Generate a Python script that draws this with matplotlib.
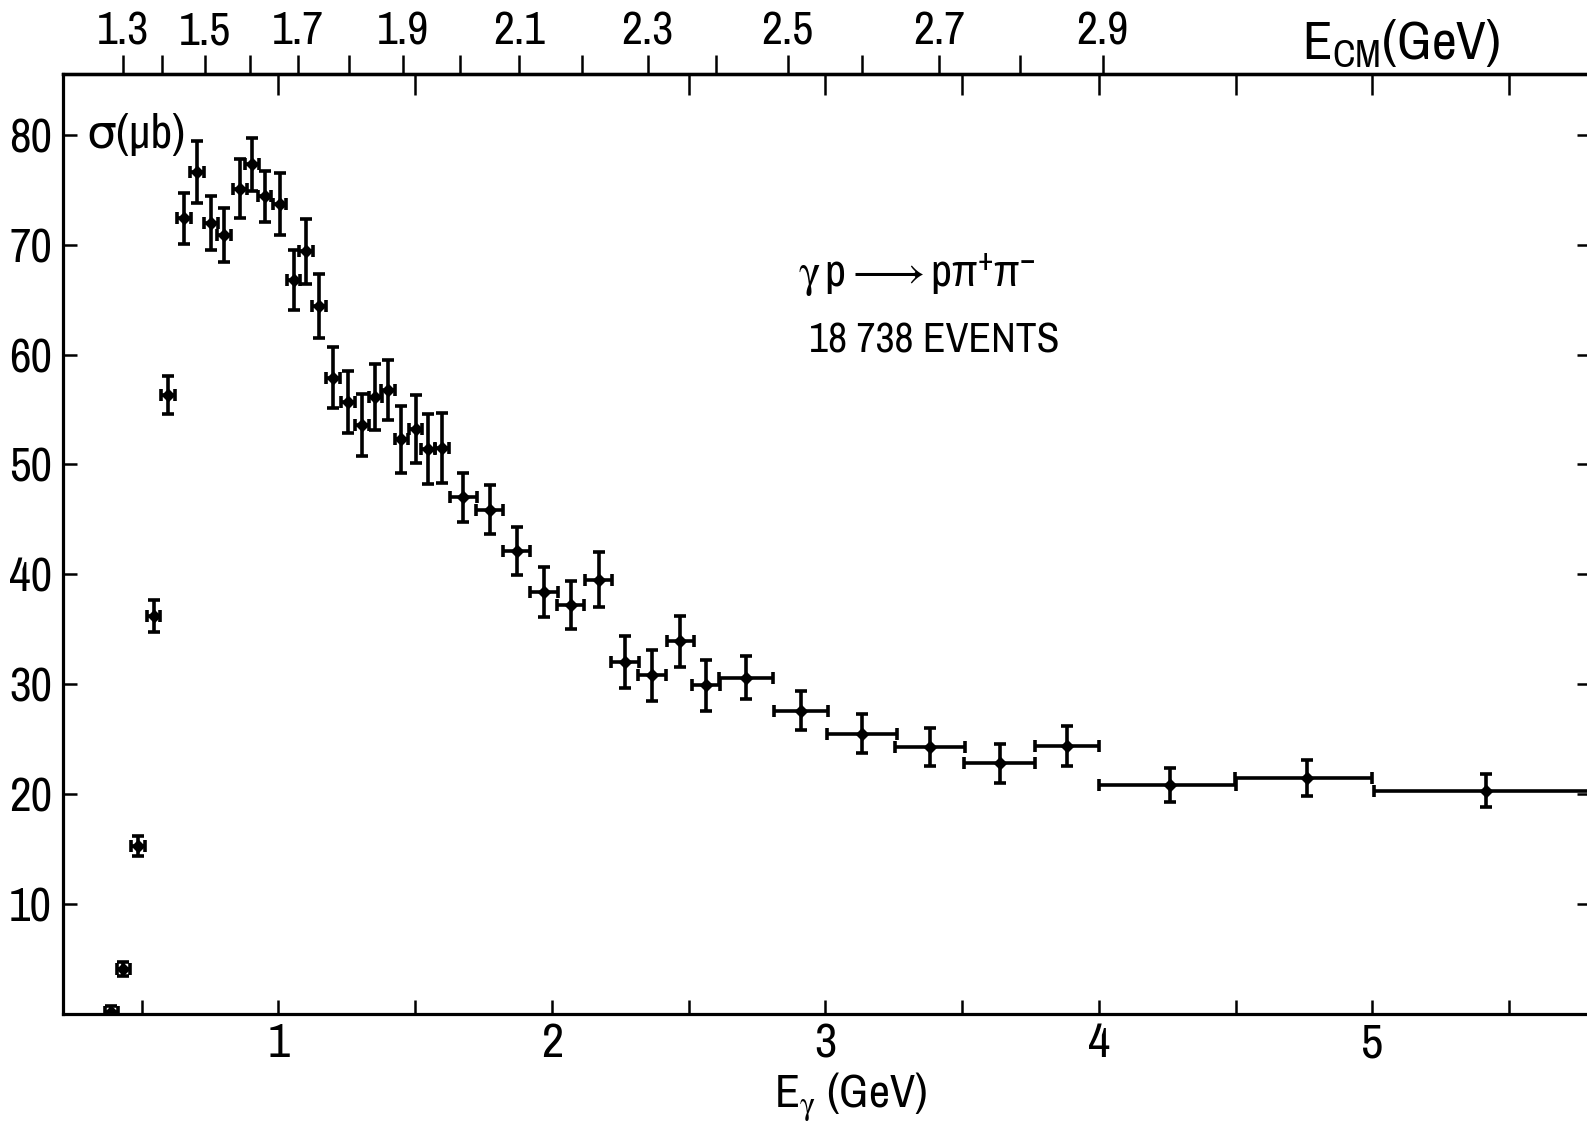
import numpy as np
import matplotlib
matplotlib.use('Agg')
import matplotlib.pyplot as plt
from matplotlib import font_manager

# Datos: seccion eficaz gamma p -> p pi+ pi-
e_gamma = [0.39, 0.434, 0.486, 0.544, 0.596, 0.655, 0.702, 0.753, 0.802, 0.861,
           0.903, 0.950, 1.005, 1.056, 1.102, 1.148, 1.200, 1.254, 1.305, 1.355,
           1.401, 1.450, 1.502, 1.548, 1.599, 1.676, 1.773, 1.871, 1.972, 2.069,
           2.171, 2.267, 2.366, 2.470, 2.564, 2.710, 2.911, 3.135, 3.382, 3.638,
           3.882, 4.260, 4.759, 5.414]
sigma = [0.2, 4.1, 15.3, 36.2, 56.3, 72.4, 76.6, 72.0, 70.9, 75.1,
         77.3, 74.4, 73.7, 66.8, 69.4, 64.4, 57.9, 55.7, 53.6, 56.1,
         56.8, 52.3, 53.2, 51.4, 51.5, 47.0, 45.9, 42.1, 38.4, 37.2,
         39.5, 32.0, 30.8, 33.9, 29.9, 30.6, 27.6, 25.5, 24.3, 22.8,
         24.4, 20.8, 21.5, 20.3]
d_sigma = [0.5, 0.65, 0.9, 1.45, 1.75, 2.3, 2.8, 2.45, 2.45, 2.65,
           2.45, 2.3, 2.8, 2.75, 2.95, 2.9, 2.8, 2.8, 2.8, 3.0,
           2.75, 3.05, 3.1, 3.2, 3.2, 2.2, 2.2, 2.2, 2.3, 2.2,
           2.5, 2.35, 2.35, 2.35, 2.35, 1.95, 1.75, 1.75, 1.7, 1.8,
           1.8, 1.55, 1.65, 1.5]
# Anchura de los bins (izquierda / derecha)
ex_lo = [0.025, 0.025, 0.025, 0.025, 0.025, 0.025, 0.025, 0.025, 0.025, 0.025,
         0.025, 0.025, 0.025, 0.025, 0.025, 0.025, 0.025, 0.025, 0.025, 0.025,
         0.025, 0.025, 0.025, 0.025, 0.025, 0.05, 0.05, 0.05, 0.05, 0.05,
         0.05, 0.05, 0.05, 0.05, 0.05, 0.10, 0.10, 0.13, 0.126, 0.13,
         0.116, 0.26, 0.26, 0.41]
ex_hi = [0.025, 0.025, 0.025, 0.025, 0.025, 0.025, 0.025, 0.025, 0.025, 0.025,
         0.025, 0.025, 0.025, 0.025, 0.025, 0.025, 0.025, 0.025, 0.025, 0.025,
         0.025, 0.025, 0.025, 0.025, 0.025, 0.05, 0.05, 0.05, 0.05, 0.05,
         0.05, 0.05, 0.05, 0.05, 0.05, 0.10, 0.10, 0.127, 0.128, 0.13,
         0.118, 0.24, 0.24, 0.59]

# Ejes
e_ticks = [0.5, 1.0, 1.5, 2.0, 2.5, 3.0, 3.5, 4.0, 4.5, 5.0, 5.5]
e_ticklabels = ['', '1', '', '2', '', '3', '', '4', '', '5', '']
e_top_ticks = [1.0, 1.5, 2.5, 3.0, 3.5, 4.0, 4.5, 5.0, 5.5]
w_ticks = [1.3, 1.4, 1.5, 1.6, 1.7, 1.8, 1.9, 2.0, 2.1, 2.2, 2.3, 2.4, 2.5, 2.6, 2.7, 2.8, 2.9]
w_ticklabels = ['1.3', '', '1.5', '', '1.7', '', '1.9', '', '2.1', '', '2.3', '', '2.5', '', '2.7', '', '2.9']
y_ticks = [10, 20, 30, 40, 50, 60, 70, 80]

M_P = 0.938  # masa del proton (GeV)


def e_to_w(e):
    e = np.asarray(e, dtype=float)
    return np.sqrt(np.clip(M_P**2 + 2 * M_P * e, 1e-6, None))


def w_to_e(w):
    w = np.asarray(w, dtype=float)
    return (w**2 - M_P**2) / (2 * M_P)


# Fuente: estrecha si existe, si no Roboto / Liberation Sans
fonts = font_manager.fontManager.ttflist
names = {f.name for f in fonts}
font = None
for f in fonts:
    if 'Narrow' in f.name or 'Condensed' in f.name:
        font = f.name
        break
if font is None:
    for cand in ['Roboto', 'Liberation Sans', 'DejaVu Sans']:
        if cand in names:
            font = cand
            break
plt.rcParams['font.family'] = [font, 'DejaVu Sans']
plt.rcParams['mathtext.fontset'] = 'custom'
plt.rcParams['mathtext.rm'] = font
plt.rcParams['mathtext.it'] = font
plt.rcParams['mathtext.sf'] = font
plt.rcParams['mathtext.default'] = 'regular'

fig = plt.figure(figsize=(15.87, 11.26), dpi=100)
ax = fig.add_axes([0.0397, 0.0995, 0.963, 0.8345])

ax.errorbar(e_gamma, sigma, yerr=d_sigma, xerr=[ex_lo, ex_hi], fmt='D', ms=6,
            color='black', ecolor='black', elinewidth=2.6, capsize=4.5, capthick=2.6)

ax.set_xlim(0.213, 5.80)
ax.set_ylim(0, 85.5)

# Eje inferior y lateral
ax.set_xticks(e_ticks)
ax.set_xticklabels(e_ticklabels)
ax.set_yticks(y_ticks)
ax.set_yticklabels([str(v) for v in y_ticks])
ax.tick_params(axis='x', direction='in', length=10, width=1.8, labelsize=35, pad=6, top=False)
ax.tick_params(axis='y', direction='in', length=10, width=1.8, labelsize=34, pad=8, right=True)
for axis in ['top', 'bottom', 'left', 'right']:
    ax.spines[axis].set_linewidth(2.3)

# Eje superior: energia en el CM
sec = ax.secondary_xaxis('top', functions=(e_to_w, w_to_e))
sec.set_xticks(w_ticks)
sec.set_xticklabels(w_ticklabels)
sec.tick_params(direction='out', length=14, width=1.8, labelsize=33, pad=2)
sec.spines['top'].set_linewidth(2.3)

top_in = ax.secondary_xaxis('top')
top_in.set_xticks(e_top_ticks)
top_in.set_xticklabels([])
top_in.tick_params(direction='in', length=15, width=1.8)
top_in.spines['top'].set_linewidth(2.3)

# Textos
ax.set_xlabel(r'E$_{\gamma}$ (GeV)', fontsize=33)
ax.xaxis.set_label_coords(0.515, -0.060)
fig.text(0.883, 0.962, 'E$_{CM}$(GeV)', fontsize=39, ha='center', va='center')
ax.text(0.30, 80.0, 'σ(μb)', fontsize=34, ha='left', va='center')
ax.text(2.90, 67.2, r'$\gamma\,$p$\longrightarrow$p$\pi^{+}\pi^{-}$', fontsize=33, ha='left', va='center')
ax.text(2.94, 61.3, '18 738 EVENTS', fontsize=30, ha='left', va='center')

fig.savefig('out.png', dpi=100)
